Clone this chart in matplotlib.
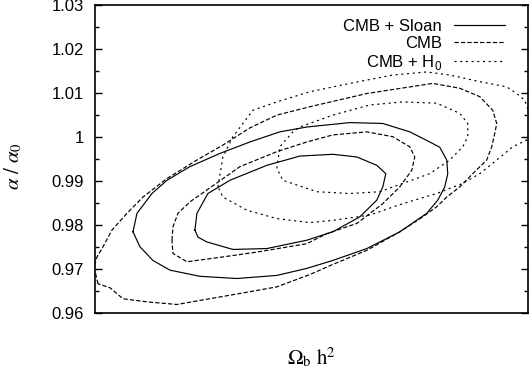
import numpy as np
import matplotlib
matplotlib.use("Agg")
import matplotlib.pyplot as plt
from matplotlib.ticker import MultipleLocator, FuncFormatter

plt.rcParams['font.family'] = ['Liberation Sans', 'DejaVu Sans']
plt.rcParams['mathtext.fontset'] = 'custom'
plt.rcParams['mathtext.rm'] = 'Liberation Sans'
plt.rcParams['lines.scale_dashes'] = False

# contour levels (x = Omega_b h^2, y = alpha / alpha_0)
sloan_2s_x = [0.02038, 0.02042, 0.02057, 0.02072, 0.02095, 0.02125, 0.02155, 0.02185, 0.02212, 0.02255,
              0.02288, 0.02315, 0.02335, 0.02345, 0.02352, 0.02353, 0.02350, 0.02343, 0.02332, 0.02305,
              0.02272, 0.02238, 0.02212, 0.02182, 0.02142, 0.02105, 0.02075, 0.02058, 0.02045]
sloan_2s_y = [0.9785, 0.9827, 0.9872, 0.9902, 0.9933, 0.9963, 0.9989, 1.0012, 1.0023, 1.0033,
              1.0031, 1.0012, 0.9989, 0.9977, 0.9948, 0.9917, 0.9887, 0.9857, 0.9827, 0.9785,
              0.9747, 0.9720, 0.9702, 0.9686, 0.9679, 0.9684, 0.9698, 0.9720, 0.9751]

sloan_1s_x = [0.02100, 0.02102, 0.02113, 0.02135, 0.02172, 0.02205, 0.02238, 0.02262, 0.02282, 0.02291,
              0.02288, 0.02282, 0.02265, 0.02238, 0.02212, 0.02172, 0.02138, 0.02112, 0.02103]
sloan_1s_y = [0.9789, 0.9827, 0.9872, 0.9902, 0.9936, 0.9957, 0.9961, 0.9955, 0.9936, 0.9917,
              0.9887, 0.9857, 0.9819, 0.9785, 0.9766, 0.9747, 0.9745, 0.9762, 0.9773]

cmb_2s_x = [0.02003, 0.01999, 0.02002, 0.02008, 0.02017, 0.02032, 0.02048, 0.02072, 0.02102, 0.02128,
            0.02155, 0.02182, 0.02215, 0.02272, 0.02315, 0.02338, 0.02365, 0.02385, 0.02398, 0.02402,
            0.02400, 0.02397, 0.02392, 0.02378, 0.02365, 0.02352, 0.02342, 0.02328, 0.02305, 0.02272,
            0.02238, 0.02215, 0.02182, 0.02145, 0.02112, 0.02082, 0.02052, 0.02028, 0.02015]
cmb_2s_y = [0.9667, 0.9705, 0.9728, 0.9751, 0.9789, 0.9827, 0.9864, 0.9906, 0.9948, 0.9982,
            1.0021, 1.0050, 1.0069, 1.0099, 1.0114, 1.0122, 1.0111, 1.0092, 1.0061, 1.0031,
            1.0008, 0.9978, 0.9948, 0.9917, 0.9887, 0.9864, 0.9842, 0.9819, 0.9785, 0.9743,
            0.9711, 0.9688, 0.9660, 0.9645, 0.9632, 0.9620, 0.9626, 0.9633, 0.9658]

cmb_1s_x = [0.02077, 0.02078, 0.02083, 0.02095, 0.02112, 0.02145, 0.02182, 0.02212, 0.02238, 0.02272,
            0.02298, 0.02315, 0.02320, 0.02317, 0.02305, 0.02288, 0.02262, 0.02232, 0.02212, 0.02162,
            0.02128, 0.02092, 0.02078]
cmb_1s_y = [0.9766, 0.9796, 0.9827, 0.9853, 0.9880, 0.9933, 0.9967, 0.9989, 1.0005, 1.0012,
            1.0001, 0.9978, 0.9955, 0.9925, 0.9887, 0.9849, 0.9804, 0.9781, 0.9758, 0.9739,
            0.9728, 0.9717, 0.9736]

h0_2s_x = [0.02123, 0.02128, 0.02138, 0.02158, 0.02182, 0.02215, 0.02255, 0.02298, 0.02332, 0.02355,
           0.02385, 0.02412, 0.02422, 0.02430, 0.02437, 0.02435, 0.02418, 0.02402, 0.02385, 0.02368,
           0.02342, 0.02308, 0.02275, 0.02238, 0.02215, 0.02182, 0.02152, 0.02128]
h0_2s_y = [0.9887, 0.9955, 1.0001, 1.0061, 1.0080, 1.0103, 1.0122, 1.0141, 1.0148, 1.0141,
           1.0126, 1.0114, 1.0099, 1.0084, 1.0039, 0.9997, 0.9978, 0.9948, 0.9917, 0.9895,
           0.9872, 0.9849, 0.9823, 0.9811, 0.9806, 0.9815, 0.9834, 0.9864]

h0_1s_x = [0.02182, 0.02185, 0.02198, 0.02205, 0.02238, 0.02275, 0.02308, 0.02342, 0.02365, 0.02373,
           0.02373, 0.02368, 0.02355, 0.02335, 0.02308, 0.02285, 0.02255, 0.02222, 0.02188]
h0_1s_y = [0.9929, 0.9978, 1.0012, 1.0023, 1.0050, 1.0073, 1.0080, 1.0077, 1.0054, 1.0031,
           1.0001, 0.9978, 0.9948, 0.9917, 0.9895, 0.9876, 0.9872, 0.9876, 0.9902]

labels = ['CMB + Sloan', 'CMB', 'CMB + H$_0$']
y_ticks = [0.96, 0.97, 0.98, 0.99, 1.00, 1.01, 1.02, 1.03]


def closed(xs, ys):
    return np.append(xs, xs[0]), np.append(ys, ys[0])


def main():
    fig = plt.figure(figsize=(5.29, 3.71), dpi=100)
    ax = fig.add_axes([95 / 529, 57.7 / 371, 432.7 / 529, 308.3 / 371])

    solid = dict(color='black', lw=0.85, linestyle='-')
    dash = dict(color='black', lw=0.85, linestyle=(0, (3.1, 1.5)))
    dot = dict(color='black', lw=0.85, linestyle=(0, (1.5, 2.6)))

    ax.plot(*closed(sloan_2s_x, sloan_2s_y), label=labels[0], **solid)
    ax.plot(*closed(sloan_1s_x, sloan_1s_y), **solid)
    ax.plot(*closed(cmb_2s_x, cmb_2s_y), label=labels[1], **dash)
    ax.plot(*closed(cmb_1s_x, cmb_1s_y), **dash)
    ax.plot(*closed(h0_2s_x, h0_2s_y), label=labels[2], **dot)
    ax.plot(*closed(h0_1s_x, h0_1s_y), **dot)

    ax.set_xlim(0.0200, 0.02433)
    ax.set_ylim(0.96, 1.03)
    ax.set_xticks([])
    ax.set_yticks(y_ticks)
    ax.yaxis.set_minor_locator(MultipleLocator(0.005))
    ax.yaxis.set_major_formatter(FuncFormatter(lambda v, p: f'{round(v, 2):g}'))
    ax.tick_params(axis='y', which='both', direction='in', left=True, right=True, labelsize=12, pad=8)
    ax.tick_params(axis='y', which='major', length=5, width=1.0)
    ax.tick_params(axis='y', which='minor', length=3, width=1.0)
    for s in ax.spines.values():
        s.set_linewidth(1.2)

    ax.set_ylabel(r'$\alpha\ /\ \alpha_0$', fontsize=15, math_fontfamily='stix')
    ax.yaxis.set_label_coords(-0.163, 0.478)
    ax.set_xlabel(r'$\Omega_\mathrm{b}\ \mathrm{h}^2$', fontsize=15, math_fontfamily='stix')
    ax.xaxis.set_label_coords(0.5, -0.105)

    ax.legend(loc='upper right', bbox_to_anchor=(0.9475, 0.955), frameon=False, markerfirst=False,
              fontsize=12, handlelength=3.06, handletextpad=0.74, labelspacing=0.12,
              borderpad=0, borderaxespad=0)

    fig.savefig('out.png', dpi=100)


if __name__ == "__main__":
    main()
